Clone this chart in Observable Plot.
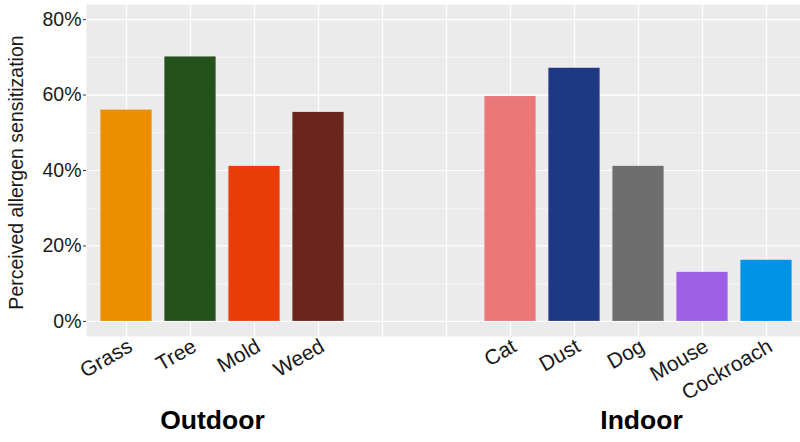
<!DOCTYPE html>
<html>
<head>
<meta charset="utf-8">
<script src="https://cdn.jsdelivr.net/npm/d3@7"></script>
<script src="https://cdn.jsdelivr.net/npm/@observablehq/plot@0.6"></script>
<style>
  html, body { margin: 0; padding: 0; background: white; }
  #chart svg { display: block; }
</style>
</head>
<body>
<div id="chart"></div>
<script>
// Data
const categories = ["Grass", "Tree", "Mold", "Weed", " ", "  ", "Cat", "Dust", "Dog", "Mouse", "Cockroach"];
const allergens = ["Grass", "Tree", "Mold", "Weed", "Cat", "Dust", "Dog", "Mouse", "Cockroach"];
const sensitization = [0.560, 0.701, 0.411, 0.554, 0.596, 0.671, 0.411, 0.130, 0.162];
const barColors = ["#EB8E00", "#25521C", "#E83D09", "#6A251D", "#EA7879", "#1F3883", "#6E6E6E", "#9D60E5", "#0193E6"];
const majorTicks = [0, 0.2, 0.4, 0.6, 0.8];
const minorTicks = [0.1, 0.3, 0.5, 0.7];
const groups = ["Outdoor", "Indoor"];
const groupAnchor = ["Tree", "Dog"];
const yTitle = "Perceived allergen sensitization";

const data = allergens.map((a, i) => ({allergen: a, value: sensitization[i]}));
const outdoor = [{label: groups[0], at: groupAnchor[0]}];
const indoor = [{label: groups[1], at: groupAnchor[1]}];

const font = "'Liberation Sans', Arial, Helvetica, sans-serif";

const chart = Plot.plot({
  width: 800,
  height: 442,
  marginLeft: 86,
  marginRight: 0,
  marginTop: 4,
  marginBottom: 106,
  style: {fontFamily: font, background: "white", color: "#1a1a1a"},
  x: {type: "band", domain: categories, range: [86, 805.6], paddingInner: 0, paddingOuter: 0.1},
  y: {domain: [-0.04, 0.84]},
  color: {domain: allergens, range: barColors},
  marks: [
    Plot.frame({fill: "#EBEBEB", stroke: null}),
    Plot.ruleY(minorTicks, {stroke: "white", strokeWidth: 0.6}),
    Plot.ruleY(majorTicks, {stroke: "white", strokeWidth: 1.2}),
    Plot.ruleX(categories, {x: d => d, stroke: "white", strokeWidth: 1.2}),
    Plot.barY(data, {x: "allergen", y: "value", fill: "allergen", insetLeft: 6.4, insetRight: 6.4}),
    Plot.axisY(majorTicks, {tickFormat: d => Math.round(d * 100) + "%", tickSize: 3, tickPadding: 2, fontSize: 19.5, stroke: "#333", fill: "#1a1a1a", label: null}),
    Plot.axisX({tickSize: 0, tickRotate: -30, tickPadding: 7, dx: 4, dy: 1, fontSize: 21, fill: "#1a1a1a", tickFormat: d => d.trim(), label: null}),
    Plot.text([yTitle], {text: d => d, frameAnchor: "left", textAnchor: "middle", rotate: -90, dx: -70, dy: 2, fontSize: 19.5, fill: "#1a1a1a"}),
    Plot.text(outdoor, {x: "at", text: "label", frameAnchor: "bottom", lineAnchor: "middle", dx: 22, dy: 84, fontSize: 26.5, fontWeight: "bold", fill: "black"}),
    Plot.text(indoor, {x: "at", text: "label", frameAnchor: "bottom", lineAnchor: "middle", dx: 3, dy: 84, fontSize: 26.5, fontWeight: "bold", fill: "black"})
  ]
});
document.getElementById("chart").appendChild(chart);
</script>
</body>
</html>
